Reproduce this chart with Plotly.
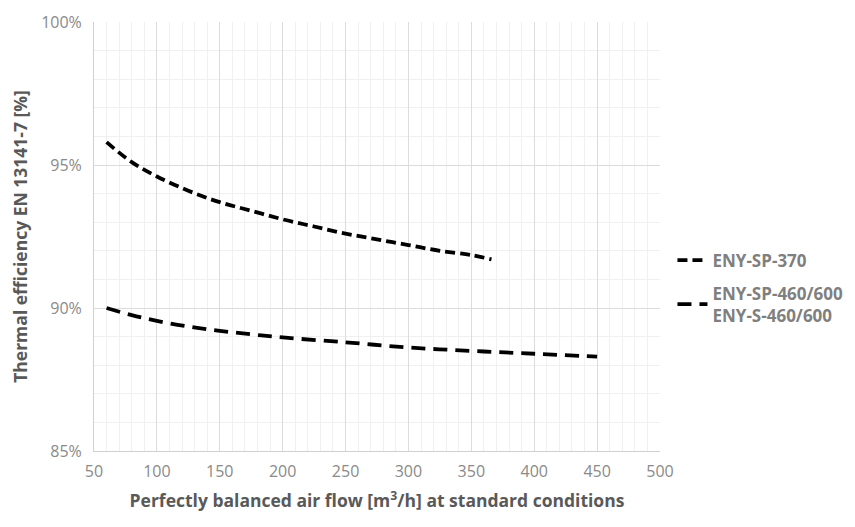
import plotly.graph_objects as go

flow_370 = [60, 80, 100, 125, 150, 175, 200, 225, 250, 275, 300, 325, 350, 366]
eff_370 = [95.8, 95.1, 94.6, 94.1, 93.7, 93.4, 93.1, 92.85, 92.6, 92.4, 92.2, 92.0, 91.85, 91.7]

flow_460 = [60, 80, 100, 125, 150, 175, 200, 250, 300, 350, 400, 450]
eff_460 = [90.0, 89.75, 89.55, 89.35, 89.2, 89.08, 88.97, 88.8, 88.62, 88.5, 88.4, 88.3]

x_ticks = [50, 100, 150, 200, 250, 300, 350, 400, 450, 500]
y_ticks = [85, 90, 95, 100]

font_family = "Open Sans, sans-serif"

fig = go.Figure()
fig.add_trace(go.Scatter(
    x=flow_370, y=eff_370, mode="lines", name="ENY-SP-370", legendgroup="a",
    line=dict(color="black", width=3.8, dash="10px,5px", shape="spline"),
))
fig.add_trace(go.Scatter(
    x=flow_460, y=eff_460, mode="lines", name="ENY-SP-460/600<br>ENY-S-460/600",
    legendgroup="b",
    line=dict(color="black", width=3.8, dash="14px,8px", shape="spline"),
))

fig.update_layout(
    width=855, height=527,
    margin=dict(l=86, r=203, t=14, b=84, autoexpand=False),
    paper_bgcolor="white", plot_bgcolor="white",
    font=dict(family=font_family, color="#7f7f7f", size=16),
    showlegend=True,
    legend=dict(
        x=1.022, y=0.486, xanchor="left", yanchor="top",
        font=dict(family=font_family, size=17, color="#7f7f7f", weight="bold"),
        itemwidth=30, tracegroupgap=8,
    ),
    xaxis=dict(
        range=[50, 500], tickvals=x_ticks, ticktext=[str(v) for v in x_ticks],
        showgrid=True, gridcolor="#dcdcdc", gridwidth=1,
        showline=True, linecolor="#d0d0d0", mirror=False,
        zeroline=False, ticks="", ticklabelstandoff=6, automargin=False,
        minor=dict(dtick=10, showgrid=True, gridcolor="#f0f0f0", gridwidth=1),
        tickfont=dict(size=16, color="#8a8a8a"),
        title=dict(text="Perfectly balanced air flow [m<sup>3</sup>/h] at standard conditions",
                   font=dict(size=17.5, color="#595959", weight="bold"), standoff=13),
    ),
    yaxis=dict(
        range=[85, 100], tickvals=y_ticks, ticktext=[f"{v}%" for v in y_ticks],
        showgrid=True, gridcolor="#dcdcdc", gridwidth=1,
        showline=True, linecolor="#d0d0d0",
        zeroline=False, ticks="", ticklabelstandoff=8, automargin=False,
        minor=dict(dtick=1, showgrid=True, gridcolor="#f0f0f0", gridwidth=1),
        tickfont=dict(size=16, color="#8a8a8a"),
        title=dict(text="Thermal efficiency EN 13141-7 [%]",
                   font=dict(size=17.5, color="#595959", weight="bold"), standoff=12),
    ),
)

fig.write_html("out.html")
